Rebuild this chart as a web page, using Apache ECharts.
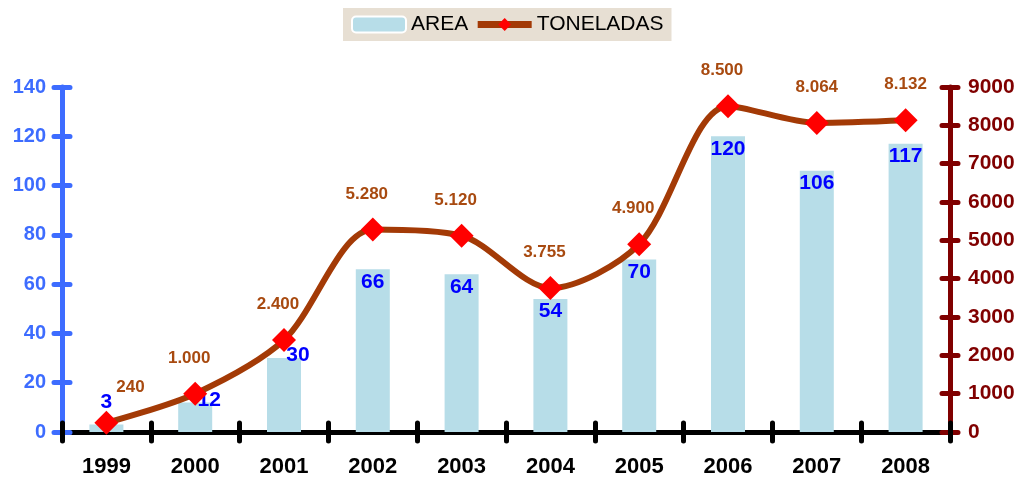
<!DOCTYPE html>
<html>
<head>
<meta charset="utf-8">
<script src="https://cdn.jsdelivr.net/npm/echarts@6/dist/echarts.min.js"></script>
<style>
  html, body { margin: 0; padding: 0; background: #fff; }
  #chart { width: 1024px; height: 479px; }
</style>
</head>
<body>
<div id="chart"></div>
<script>
const years = ["1999", "2000", "2001", "2002", "2003", "2004", "2005", "2006", "2007", "2008"];
const area = [3, 12, 30, 66, 64, 54, 70, 120, 106, 117];
const toneladas = [240, 1000, 2400, 5280, 5120, 3755, 4900, 8500, 8064, 8132];

const fmtDots = (v) => String(v).replace(/\B(?=(\d{3})+(?!\d))/g, ".");

const chart = echarts.init(document.getElementById("chart"));

const tickStyle = (color) => ({ color: color, width: 5, cap: "round" });

const option = {
  animation: false,
  textStyle: { fontFamily: "Liberation Sans, Arial, sans-serif" },
  legend: {
    top: 8,
    left: 343,
    padding: [6, 8, 6, 8],
    backgroundColor: "#e7dfd3",
    itemGap: 6,
    itemWidth: 54,
    itemHeight: 16,
    textStyle: { fontSize: 21, color: "#000" },
    data: [
      { name: "AREA", itemStyle: { borderColor: "#fff", borderWidth: 2 } },
      { name: "TONELADAS", lineStyle: { width: 7 } },
    ],
  },
  grid: { left: 62, right: 74, top: 87, bottom: 47 },
  xAxis: [
    {
      type: "category",
      data: years,
      axisLine: { lineStyle: { color: "#000", width: 5 } },
      axisTick: { show: true, length: 9, lineStyle: tickStyle("#000") },
      axisLabel: { color: "#000", fontSize: 22, fontWeight: "bold", margin: 24 },
    },
    {
      type: "category",
      data: years,
      position: "bottom",
      axisLine: { show: false },
      axisTick: { show: true, inside: true, length: 9, lineStyle: tickStyle("#000") },
      axisLabel: { show: false },
    },
  ],
  yAxis: [
    {
      type: "value",
      position: "left",
      min: 0,
      max: 140,
      interval: 20,
      splitLine: { show: false },
      axisLine: { show: true, lineStyle: { color: "#3d6cff", width: 5 } },
      axisTick: { show: true, length: 8, lineStyle: tickStyle("#3d6cff") },
      axisLabel: { color: "#3d6cff", fontSize: 20, fontWeight: "bold", margin: 16 },
    },
    {
      type: "value",
      position: "right",
      min: 0,
      max: 9000,
      interval: 1000,
      splitLine: { show: false },
      axisLine: { show: true, lineStyle: { color: "#800000", width: 5 } },
      axisTick: { show: true, length: 8, lineStyle: tickStyle("#800000") },
      axisLabel: {
        color: "#800000",
        fontSize: 21,
        fontWeight: "bold",
        margin: 18,
        formatter: (v) => String(v),
      },
    },
    {
      type: "value",
      position: "left",
      min: 0,
      max: 140,
      interval: 20,
      splitLine: { show: false },
      axisLine: { show: false },
      axisTick: { show: true, inside: true, length: 8, lineStyle: tickStyle("#3d6cff") },
      axisLabel: { show: false },
    },
    {
      type: "value",
      position: "right",
      min: 0,
      max: 9000,
      interval: 1000,
      splitLine: { show: false },
      axisLine: { show: false },
      axisTick: { show: true, inside: true, length: 8, lineStyle: tickStyle("#800000") },
      axisLabel: { show: false },
    },
  ],
  series: [
    {
      name: "AREA",
      type: "bar",
      yAxisIndex: 0,
      barWidth: 34,
      itemStyle: { color: "#b7dde8" },
      data: area.map((v, i) => ({
        value: v,
        label: i < 3 ? { position: "top", offset: [i === 0 ? 0 : 14, i === 0 ? -10 : 10] } : undefined,
      })),
      label: {
        show: true,
        position: "insideTop",
        distance: 2,
        color: "#0000ff",
        fontSize: 21,
        fontWeight: "bold",
      },
      z: 2,
    },
    {
      name: "TONELADAS",
      type: "line",
      yAxisIndex: 1,
      smooth: 0.3,
      symbol: "diamond",
      symbolSize: 24,
      lineStyle: { color: "#a33a06", width: 6 },
      itemStyle: { color: "#ff0000" },
      data: toneladas.map((v, i) => ({
        value: v,
        label: i === 0 ? { offset: [24, 0] } : i >= 8 ? { offset: [0, 0] } : undefined,
      })),
      label: {
        show: true,
        position: "top",
        distance: 15,
        offset: [-6, 0],
        color: "#a84a10",
        fontSize: 17,
        fontWeight: "bold",
        formatter: (p) => fmtDots(p.value),
      },
      z: 5,
    },
  ],
};

chart.setOption(option);
</script>
</body>
</html>
